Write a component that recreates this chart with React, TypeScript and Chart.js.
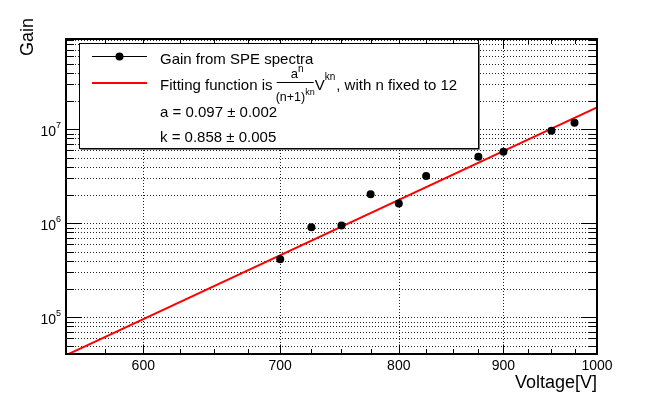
import React, { useEffect, useRef } from 'react';
import { Chart, registerables } from 'chart.js';

Chart.register(...registerables);

// ---- data ----
const voltages = [700, 725, 750, 775, 800, 825, 875, 900, 950, 975];
const gains = [4.14e5, 9.1e5, 9.5e5, 2.04e6, 1.62e6, 3.18e6, 5.1e6, 5.78e6, 9.67e6, 1.175e7];
const fitVoltages = [550, 1000];
const fitGains = [3.95e4, 1.71e7];

// ---- axes ----
const xMin = 550;
const xMax = 1000;
const yMin = 4.07e4;
const yMax = 9.13e7;
const xMajor = [600, 700, 800, 900, 1000];
const xLabels = ['600', '700', '800', '900', '1000'];
const xMinor = [575, 625, 650, 675, 725, 750, 775, 825, 850, 875, 925, 950, 975];
const yMajor = [1e5, 1e6, 1e7];
const yExponents = ['5', '6', '7'];
const yDecades = [1e4, 1e5, 1e6, 1e7];
const yMultipliers = [2, 3, 4, 5, 6, 7, 8, 9];

const legendLabels = ['Gain from SPE spectra', 'Fitting function is ', ', with n fixed to 12', 'a = 0.097 \u00b1 0.002', 'k = 0.858 \u00b1 0.005'];
const xTitle = 'Voltage[V]';
const yTitle = 'Gain';

const FONT = "'Liberation Sans', Arial, Helvetica, sans-serif";

const yMinor: number[] = [];
yDecades.forEach((d) => yMultipliers.forEach((m) => {
  const v = d * m;
  if (v > yMin && v < yMax) yMinor.push(v);
}));

const rootPlugin = {
  id: 'rootStyle',
  beforeDatasetsDraw(chart: any) {
    const { ctx, chartArea: a, scales } = chart;
    const x = scales.x, y = scales.y;
    ctx.save();
    ctx.strokeStyle = '#222';
    ctx.lineWidth = 1;
    ctx.setLineDash([1, 2]);
    ctx.beginPath();
    xMajor.forEach((v) => {
      const px = Math.round(x.getPixelForValue(v)) + 0.5;
      if (px < a.right - 1) { ctx.moveTo(px, a.top); ctx.lineTo(px, a.bottom); }
    });
    [...yMajor, ...yMinor].forEach((v) => {
      const py = Math.round(y.getPixelForValue(v)) + 0.5;
      if (py > a.top + 1) { ctx.moveTo(a.left, py); ctx.lineTo(a.right, py); }
    });
    ctx.stroke();
    ctx.restore();
  },
  afterDatasetsDraw(chart: any) {
    const { ctx, chartArea: a, scales } = chart;
    const x = scales.x, y = scales.y;
    ctx.save();
    // ticks
    ctx.strokeStyle = '#000';
    ctx.lineWidth = 1;
    ctx.setLineDash([]);
    ctx.beginPath();
    const xt = (v: number, len: number) => {
      const px = Math.round(x.getPixelForValue(v)) + 0.5;
      ctx.moveTo(px, a.bottom); ctx.lineTo(px, a.bottom - len);
      ctx.moveTo(px, a.top); ctx.lineTo(px, a.top + len);
    };
    const yt = (v: number, len: number) => {
      const py = Math.round(y.getPixelForValue(v)) + 0.5;
      ctx.moveTo(a.left, py); ctx.lineTo(a.left + len, py);
      ctx.moveTo(a.right, py); ctx.lineTo(a.right - len, py);
    };
    xMajor.forEach((v) => xt(v, 9.5));
    xMinor.forEach((v) => xt(v, 5));
    yMajor.forEach((v) => yt(v, 16));
    yMinor.forEach((v) => yt(v, 8));
    ctx.stroke();

    // legend box
    const lx = 79.5, ly = 43.5, lw = 399, lh = 105;
    ctx.fillStyle = '#fff';
    ctx.fillRect(lx, ly, lw + 1, lh + 1);
    ctx.strokeStyle = '#000';
    ctx.lineWidth = 1;
    ctx.strokeRect(lx, ly, lw, lh);
    ctx.strokeStyle = '#777';
    ctx.beginPath();
    ctx.moveTo(lx + lw + 1, ly + 1); ctx.lineTo(lx + lw + 1, ly + lh + 1); ctx.lineTo(lx + 1, ly + lh + 1);
    ctx.stroke();

    // entry 1: graph
    ctx.strokeStyle = '#000';
    ctx.beginPath();
    ctx.moveTo(92, 56.5); ctx.lineTo(147, 56.5);
    ctx.stroke();
    ctx.fillStyle = '#000';
    ctx.beginPath();
    ctx.arc(119.5, 56.5, 4, 0, Math.PI * 2);
    ctx.fill();
    // entry 2: fit
    ctx.strokeStyle = '#ff0000';
    ctx.lineWidth = 2;
    ctx.beginPath();
    ctx.moveTo(92, 83); ctx.lineTo(147, 83);
    ctx.stroke();

    ctx.fillStyle = '#000';
    ctx.textBaseline = 'alphabetic';
    ctx.textAlign = 'left';
    ctx.font = `15px ${FONT}`;
    ctx.fillText(legendLabels[0], 160, 64);
    ctx.fillText(legendLabels[1], 160, 90);
    const barL = 160 + ctx.measureText(legendLabels[1]).width;
    const barR = barL + 37;
    // fraction
    ctx.strokeStyle = '#000';
    ctx.lineWidth = 1;
    ctx.beginPath();
    ctx.moveTo(barL, 82.5); ctx.lineTo(barR, 82.5);
    ctx.stroke();
    ctx.font = `13px ${FONT}`;
    const aw = ctx.measureText('a').width;
    ctx.font = `10px ${FONT}`;
    const nw = ctx.measureText('n').width;
    const numL = (barL + barR) / 2 - (aw + nw) / 2 + 2;
    ctx.font = `13px ${FONT}`;
    ctx.fillText('a', numL, 78);
    ctx.font = `10px ${FONT}`;
    ctx.fillText('n', numL + aw, 72);
    ctx.font = `12.5px ${FONT}`;
    const dw = ctx.measureText('(n+1)').width;
    ctx.font = `9px ${FONT}`;
    const knw = ctx.measureText('kn').width;
    const denL = (barL + barR) / 2 - (dw + knw) / 2;
    ctx.font = `12.5px ${FONT}`;
    ctx.fillText('(n+1)', denL, 101);
    ctx.font = `9px ${FONT}`;
    ctx.fillText('kn', denL + dw, 95);
    let cx = barR + 1;
    ctx.font = `15px ${FONT}`;
    ctx.fillText('V', cx, 90);
    cx += ctx.measureText('V').width;
    ctx.font = `10px ${FONT}`;
    ctx.fillText('kn', cx, 80);
    cx += ctx.measureText('kn').width + 1;
    ctx.font = `15px ${FONT}`;
    ctx.fillText(legendLabels[2], cx, 90);
    ctx.fillText(legendLabels[3], 160, 117);
    ctx.fillText(legendLabels[4], 160, 142);

    // frame
    ctx.strokeStyle = '#000';
    ctx.lineWidth = 2;
    ctx.strokeRect(a.left, a.top, a.right - a.left, a.bottom - a.top);

    // x tick labels
    ctx.font = `14px ${FONT}`;
    ctx.textAlign = 'center';
    xMajor.forEach((v, i) => {
      ctx.fillText(xLabels[i], x.getPixelForValue(v), 370);
    });
    // y tick labels
    yMajor.forEach((v, i) => {
      const py = y.getPixelForValue(v);
      ctx.font = `9px ${FONT}`;
      const ew = ctx.measureText(yExponents[i]).width;
      ctx.textAlign = 'left';
      ctx.fillText(yExponents[i], 61 - ew, py - 1);
      ctx.font = `14px ${FONT}`;
      ctx.textAlign = 'right';
      ctx.fillText('10', 61 - ew, py + 6.5);
    });
    // axis titles
    ctx.font = `18px ${FONT}`;
    ctx.textAlign = 'right';
    ctx.fillText(xTitle, a.right, 388);
    ctx.save();
    ctx.translate(33, 37);
    ctx.rotate(-Math.PI / 2);
    ctx.textAlign = 'center';
    ctx.fillText(yTitle, 0, 0);
    ctx.restore();
    ctx.restore();
  },
};

export default function App() {
  const ref = useRef<HTMLCanvasElement | null>(null);
  useEffect(() => {
    if (!ref.current) return;
    const chart = new Chart(ref.current, {
      type: 'scatter',
      data: {
        datasets: [
          {
            label: 'Gain from SPE spectra',
            data: voltages.map((v, i) => ({ x: v, y: gains[i] })),
            pointRadius: 4,
            pointBackgroundColor: '#000',
            pointBorderWidth: 0,
            showLine: false,
          },
          {
            label: 'Fit',
            data: fitVoltages.map((v, i) => ({ x: v, y: fitGains[i] })),
            showLine: true,
            borderColor: '#ff0000',
            borderWidth: 2,
            pointRadius: 0,
          },
        ],
      },
      options: {
        animation: false,
        responsive: false,
        devicePixelRatio: 1,
        layout: { padding: { left: 66, right: 67, top: 39, bottom: 41 } },
        plugins: { legend: { display: false }, tooltip: { enabled: false } },
        events: [],
        scales: {
          x: { type: 'logarithmic', min: xMin, max: xMax, display: false },
          y: { type: 'logarithmic', min: yMin, max: yMax, display: false },
        },
      },
      plugins: [rootPlugin],
    } as any);
    return () => chart.destroy();
  }, []);
  return (
    <div style={{ position: 'fixed', left: 0, top: 0, width: 664, height: 395, background: '#fff' }}>
      <canvas ref={ref} width={664} height={395} style={{ width: 664, height: 395 }} />
    </div>
  );
}
